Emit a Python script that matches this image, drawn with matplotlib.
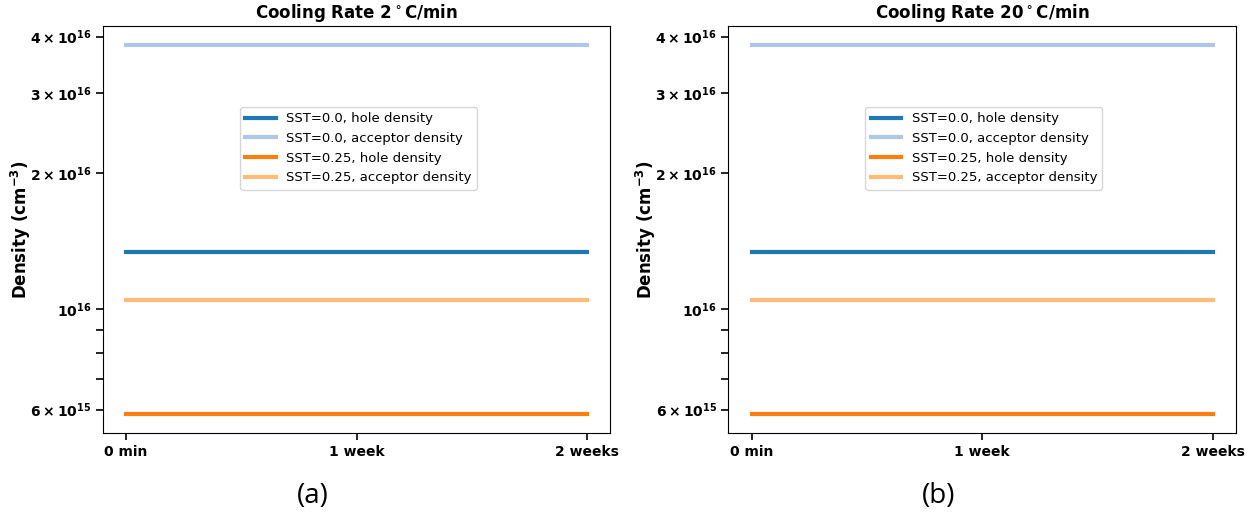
import matplotlib
matplotlib.use("Agg")
import matplotlib.pyplot as plt

# time axis in days (0 min .. 2 weeks)
time_days = [0, 14]
tick_pos = [0, 7, 14]
tick_labels = ["0 min", "1 week", "2 weeks"]

rates = ["2", "20"]
panel_tags = ["(a)", "(b)"]

series_labels = [
    "SST=0.0, hole density",
    "SST=0.0, acceptor density",
    "SST=0.25, hole density",
    "SST=0.25, acceptor density",
]
series_colors = ["#1f77b4", "#aec7e8", "#ff7f0e", "#ffbb78"]

# densities (cm^-3), constant over time
density_rate2 = [1.335e16, 3.84e16, 5.86e15, 1.047e16]
density_rate20 = [1.335e16, 3.84e16, 5.86e15, 1.047e16]

plt.rcParams["font.weight"] = "bold"
plt.rcParams["mathtext.default"] = "bf"

fig = plt.figure(figsize=(12.56, 5.14), dpi=100)
ax1 = fig.add_axes([0.082, 0.158, 0.404, 0.791])
ax2 = fig.add_axes([0.580, 0.158, 0.404, 0.791])

for ax, rate, values, tag, tx in zip([ax1, ax2], rates, [density_rate2, density_rate20],
                                     panel_tags, [0.249, 0.747]):
    for val, lab, col in zip(values, series_labels, series_colors):
        ax.plot(time_days, [val] * len(time_days), color=col, lw=3, label=lab)
    ax.set_yscale("log")
    ax.set_xticks(tick_pos)
    ax.set_xticklabels(tick_labels)
    ax.set_title(r"Cooling Rate %s$^\circ$C/min" % rate, fontsize=12, fontweight="bold")
    ax.set_ylabel(r"Density (cm$^{-3}$)", fontsize=12, fontweight="bold", labelpad=-2)
    ax.tick_params(which="both", labelsize=10, length=5, width=1.2)
    ax.legend(loc="upper left", bbox_to_anchor=(0.257, 0.817), handlelength=2.3,
              prop={"weight": "normal", "size": 9.5})
    fig.text(tx, 0.035, tag, ha="center", va="center",
             fontsize=20, fontweight="normal", family="Open Sans")

fig.savefig("out.png", dpi=100)
